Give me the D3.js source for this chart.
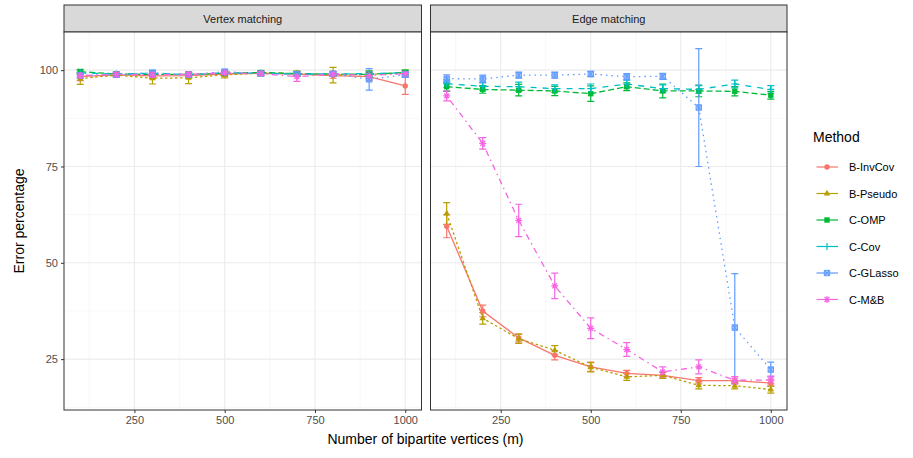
<!DOCTYPE html>
<html><head><meta charset="utf-8">
<script src="https://cdn.jsdelivr.net/npm/d3@7"></script>
<style>body{margin:0;background:#fff}svg{display:block;font-family:"Liberation Sans",Arial,sans-serif}</style>
</head><body><svg id="c" width="913" height="458"></svg>
<script>
const mValues = [100,200,300,400,500,600,700,800,900,1000];
const methods = ["B-InvCov","B-Pseudo","C-OMP","C-Cov","C-GLasso","C-M&B"];
const facets = ["Vertex matching","Edge matching"];
const xTicks = [250,500,750,1000];
const yTicks = [25,50,75,100];
// Vertex matching means / error half-widths
const vInvCov   = [98.3,98.8,98.5,98.6,99.0,99.2,99.0,98.6,98.3,95.9];
const vInvCovE  = [1.0,0.5,0.7,0.7,0.6,0.5,0.6,0.7,1.0,2.2];
const vPseudo   = [97.8,98.7,97.9,98.0,98.8,99.2,99.1,98.7,98.9,99.2];
const vPseudoE  = [1.5,0.5,1.5,1.5,0.8,0.5,0.7,2.0,1.0,0.8];
const vOMP      = [99.6,99.0,98.9,98.9,99.2,99.4,99.1,99.0,98.9,99.4];
const vOMPE     = [0.6,0.5,0.6,0.6,0.5,0.5,0.5,0.6,0.6,0.6];
const vCov      = [99.3,99.0,99.2,98.8,99.3,99.2,99.0,99.0,99.1,99.3];
const vCovE     = [0.5,0.5,0.6,0.5,0.5,0.5,0.5,0.5,0.6,0.5];
const vGLasso   = [98.6,98.8,99.3,98.8,99.6,99.1,99.0,99.1,97.6,98.8];
const vGLassoE  = [0.6,0.5,0.7,0.6,0.6,0.6,0.5,0.6,2.8,0.7];
const vMB       = [98.6,98.9,98.8,98.9,99.3,99.1,98.3,99.0,98.6,99.1];
const vMBE      = [0.6,0.5,0.6,0.6,0.5,0.5,1.2,0.6,0.8,0.6];
// Edge matching means / error half-widths
const eInvCov   = [59.5,37.5,30.5,26.0,23.0,21.3,20.8,19.4,19.4,18.8];
const eInvCovE  = [3.0,1.5,1.0,1.2,1.2,0.8,0.8,0.8,0.7,0.8];
const ePseudo   = [62.8,35.6,30.3,27.3,22.9,20.4,20.8,18.2,18.1,17.1];
const ePseudoE  = [2.8,1.5,1.2,1.2,1.2,0.9,0.8,0.9,0.8,0.9];
const eOMP      = [95.7,95.0,94.8,94.6,93.9,95.7,94.6,94.6,94.5,93.5];
const eOMPE     = [1.2,1.0,1.5,1.2,2.0,1.0,1.8,1.5,1.2,1.0];
const eCov      = [96.5,95.8,95.7,95.2,95.2,96.4,95.2,95.0,96.4,95.0];
const eCovE     = [1.0,1.0,1.2,1.0,1.2,1.0,1.0,1.0,1.0,1.0];
const eGLasso   = [97.8,97.7,98.7,98.7,99.0,98.3,98.4,90.3,33.2,22.3];
const eGLassoE  = [1.0,1.0,0.8,0.8,0.7,0.8,0.8,15.3,14.0,1.9];
const eMB       = [93.3,81.0,61.0,44.0,33.0,27.5,21.7,23.0,19.5,19.6];
const eMBE      = [1.3,1.5,4.2,3.3,2.7,1.8,1.3,1.8,1.0,1.0];

const colors = ["#F8766D","#B79F00","#00BA38","#00BFC4","#619CFF","#F564E3"];
const dashes = [null,"2.5,2.5","6,3","6,6","1.5,4","1.5,4,6,4"];

const panelData = [
  [[vInvCov,vInvCovE],[vPseudo,vPseudoE],[vOMP,vOMPE],[vCov,vCovE],[vGLasso,vGLassoE],[vMB,vMBE]],
  [[eInvCov,eInvCovE],[ePseudo,ePseudoE],[eOMP,eOMPE],[eCov,eCovE],[eGLasso,eGLassoE],[eMB,eMBE]]
];

const svg = d3.select("#c");
const pTop = 32, pBottom = 410, stripTop = 5;
const panels = [{x0:64,x1:421.5},{x0:430.5,x1:787}];
const y = d3.scaleLinear().domain([11.8,109.9]).range([pBottom, pTop]);

function shapePath(i, s){
  const r = s;
  switch(i){
    case 0: return d3.symbol(d3.symbolCircle, Math.PI*r*r)();
    case 1: return d3.symbol(d3.symbolTriangle, r*r*2.6)();
    case 2: return `M${-r},${-r}H${r}V${r}H${-r}Z`;
    case 3: return `M${-r*1.3},0H${r*1.3}M0,${-r*1.3}V${r*1.3}`;
    case 4: return `M${-r},${-r}H${r}V${r}H${-r}ZM${-r},${-r}L${r},${r}M${r},${-r}L${-r},${r}`;
    case 5: {const a=r*1.3,b=a*0.707; return `M${-a},0H${a}M0,${-a}V${a}M${-b},${-b}L${b},${b}M${b},${-b}L${-b},${b}`;}
  }
}
function drawShape(g, i, cx, cy, col){
  const p = g.append("path").attr("d", shapePath(i, 2.7)).attr("transform",`translate(${cx},${cy})`);
  if (i===3||i===5) p.attr("fill","none").attr("stroke",col).attr("stroke-width",1.2);
  else if (i===4) p.attr("fill",col).attr("fill-opacity",0.6).attr("stroke",col).attr("stroke-width",1);
  else p.attr("fill",col);
}

panels.forEach((P, fi) => {
  const x = d3.scaleLinear().domain([55,1045]).range([P.x0, P.x1]);
  const g = svg.append("g");
  g.append("rect").attr("x",P.x0).attr("y",stripTop).attr("width",P.x1-P.x0).attr("height",pTop-stripTop)
    .attr("fill","#d9d9d9").attr("stroke","#333").attr("stroke-width",1);
  g.append("text").attr("x",(P.x0+P.x1)/2).attr("y",(stripTop+pTop)/2+4).attr("text-anchor","middle")
    .attr("font-size",11).attr("fill","#1a1a1a").text(facets[fi]);
  g.append("rect").attr("x",P.x0).attr("y",pTop).attr("width",P.x1-P.x0).attr("height",pBottom-pTop).attr("fill","#fff");
  const minorX = [125,375,625,875];
  const minorY = [12.5,37.5,62.5,87.5];
  minorX.forEach(v=>g.append("line").attr("x1",x(v)).attr("x2",x(v)).attr("y1",pTop).attr("y2",pBottom).attr("stroke","#f2f2f2").attr("stroke-width",0.6));
  minorY.forEach(v=>g.append("line").attr("x1",P.x0).attr("x2",P.x1).attr("y1",y(v)).attr("y2",y(v)).attr("stroke","#f2f2f2").attr("stroke-width",0.6));
  xTicks.forEach(v=>g.append("line").attr("x1",x(v)).attr("x2",x(v)).attr("y1",pTop).attr("y2",pBottom).attr("stroke","#ebebeb").attr("stroke-width",1.1));
  yTicks.forEach(v=>g.append("line").attr("x1",P.x0).attr("x2",P.x1).attr("y1",y(v)).attr("y2",y(v)).attr("stroke","#ebebeb").attr("stroke-width",1.1));
  const pd = panelData[fi];
  const line = d3.line().x(d=>x(d[0])).y(d=>y(d[1]));
  pd.forEach((s,i)=>{
    const pts = mValues.map((m,k)=>[m,s[0][k]]);
    const p = g.append("path").attr("d",line(pts)).attr("fill","none").attr("stroke",colors[i]).attr("stroke-width",1.3);
    if (dashes[i]) p.attr("stroke-dasharray",dashes[i]);
  });
  pd.forEach((s,i)=>{
    mValues.forEach((m,k)=>{
      const cx = x(m), lo = y(s[0][k]-s[1][k]), hi = y(s[0][k]+s[1][k]);
      g.append("path").attr("d",`M${cx-3.5},${hi}H${cx+3.5}M${cx},${hi}V${lo}M${cx-3.5},${lo}H${cx+3.5}`)
        .attr("stroke",colors[i]).attr("stroke-width",1.2).attr("fill","none");
    });
  });
  pd.forEach((s,i)=>{
    mValues.forEach((m,k)=> drawShape(g,i,x(m),y(s[0][k]),colors[i]));
  });
  g.append("rect").attr("x",P.x0).attr("y",pTop).attr("width",P.x1-P.x0).attr("height",pBottom-pTop)
    .attr("fill","none").attr("stroke","#333").attr("stroke-width",1);
  const ax = g.append("g").attr("transform",`translate(0,${pBottom})`)
    .call(d3.axisBottom(x).tickValues(xTicks).tickFormat(d3.format("d")).tickSize(3).tickPadding(3));
  ax.select(".domain").remove();
  ax.selectAll("line").attr("stroke","#333");
  ax.selectAll("text").attr("font-size",11).attr("fill","#4d4d4d").attr("font-family","Liberation Sans, Arial, sans-serif");
  if (fi===0){
    const ay = g.append("g").attr("transform",`translate(${P.x0},0)`)
      .call(d3.axisLeft(y).tickValues(yTicks).tickFormat(d3.format("d")).tickSize(3).tickPadding(3));
    ay.select(".domain").remove();
    ay.selectAll("line").attr("stroke","#333");
    ay.selectAll("text").attr("font-size",11).attr("fill","#4d4d4d").attr("font-family","Liberation Sans, Arial, sans-serif");
  }
});

svg.append("text").attr("x",(64+787)/2).attr("y",444).attr("text-anchor","middle").attr("font-size",14).attr("fill","#000")
  .text("Number of bipartite vertices (m)");
svg.append("text").attr("transform",`translate(24,${(pTop+pBottom)/2}) rotate(-90)`).attr("text-anchor","middle")
  .attr("font-size",14).attr("fill","#000").text("Error percentage");

const lg = svg.append("g");
lg.append("text").attr("x",813).attr("y",142).attr("font-size",14).attr("fill","#000").text("Method");
methods.forEach((mname,i)=>{
  const yy = 167 + i*26.5;
  lg.append("line").attr("x1",816.5).attr("x2",838).attr("y1",yy).attr("y2",yy).attr("stroke",colors[i]).attr("stroke-width",1.2);
  drawShape(lg,i,827,yy,colors[i]);
  lg.append("text").attr("x",849).attr("y",yy+4).attr("font-size",11).attr("fill","#000").text(mname);
});
</script></body></html>
